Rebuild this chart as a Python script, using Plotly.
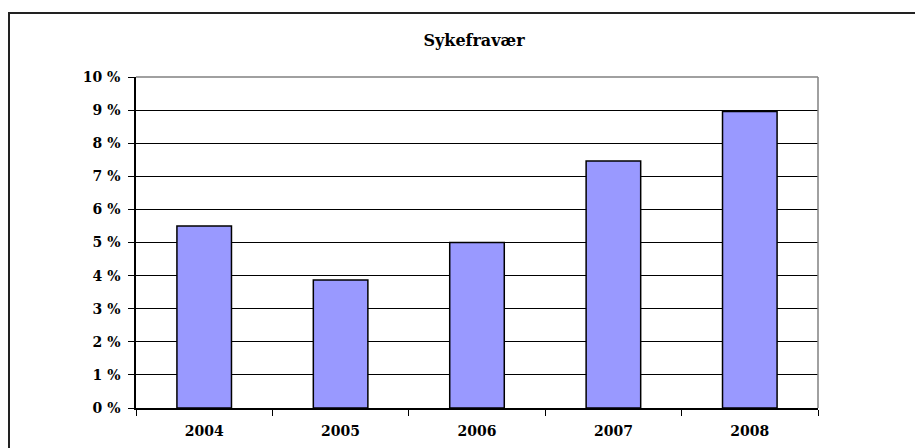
import plotly.graph_objects as go

years = ["2004", "2005", "2006", "2007", "2008"]
absence_pct = [5.5, 3.87, 5.0, 7.46, 8.96]
tick_values = list(range(0, 11))
tick_labels = [f"{v} %" for v in tick_values]

SERIF = "DejaVu Serif, serif"

fig = go.Figure()
fig.add_trace(
    go.Bar(
        x=years,
        y=absence_pct,
        width=0.4,
        marker=dict(color="#9999FF", line=dict(color="#000000", width=1.5)),
        showlegend=False,
    )
)

# figure sits 8px in from the page corner; plot area in figure pixels
W, H = 915, 440
L, R, T, B = 128, 810, 69, 400


def px_x(p):
    return (p - L) / (R - L)


def px_y(p):
    return (B - p) / (B - T)


fig.update_layout(
    width=W,
    height=H,
    margin=dict(l=L, r=W - R, t=T, b=H - B),
    paper_bgcolor="white",
    plot_bgcolor="white",
    title=dict(
        text="<b>Sykefravær</b>",
        x=466 / W,
        xref="container",
        xanchor="center",
        y=1 - 32 / H,
        yref="container",
        yanchor="middle",
        font=dict(family=SERIF, size=16, color="#000000"),
    ),
    shapes=[
        # grey plot-area border on top and right
        dict(type="line", xref="paper", yref="paper", x0=0, x1=1, y0=1, y1=1,
             line=dict(color="#808080", width=1.5), layer="above"),
        dict(type="line", xref="paper", yref="paper", x0=1, x1=1, y0=0, y1=1,
             line=dict(color="#808080", width=1.5), layer="above"),
        # outer chart border (cropped at right and bottom)
        dict(type="rect", xref="paper", yref="paper",
             x0=px_x(1), x1=px_x(960), y0=px_y(480), y1=px_y(5),
             line=dict(color="#222222", width=2), fillcolor="rgba(0,0,0,0)"),
    ],
)

fig.update_xaxes(
    type="category",
    automargin=False,
    showline=True,
    linecolor="#000000",
    linewidth=1.5,
    ticks="outside",
    tickson="boundaries",
    ticklen=6,
    tickcolor="#000000",
    showgrid=False,
    ticklabelstandoff=9,
    tickfont=dict(family=SERIF, size=14, color="#000000", weight="bold"),
)
fig.update_yaxes(
    range=[0, 10],
    automargin=False,
    tickvals=tick_values,
    ticktext=tick_labels,
    showline=True,
    linecolor="#000000",
    linewidth=1.5,
    ticks="outside",
    ticklen=6,
    tickcolor="#000000",
    showgrid=True,
    gridcolor="#000000",
    gridwidth=1,
    zeroline=False,
    ticklabelstandoff=5,
    tickfont=dict(family=SERIF, size=14, color="#000000", weight="bold"),
)

fig.write_html("out.html")
